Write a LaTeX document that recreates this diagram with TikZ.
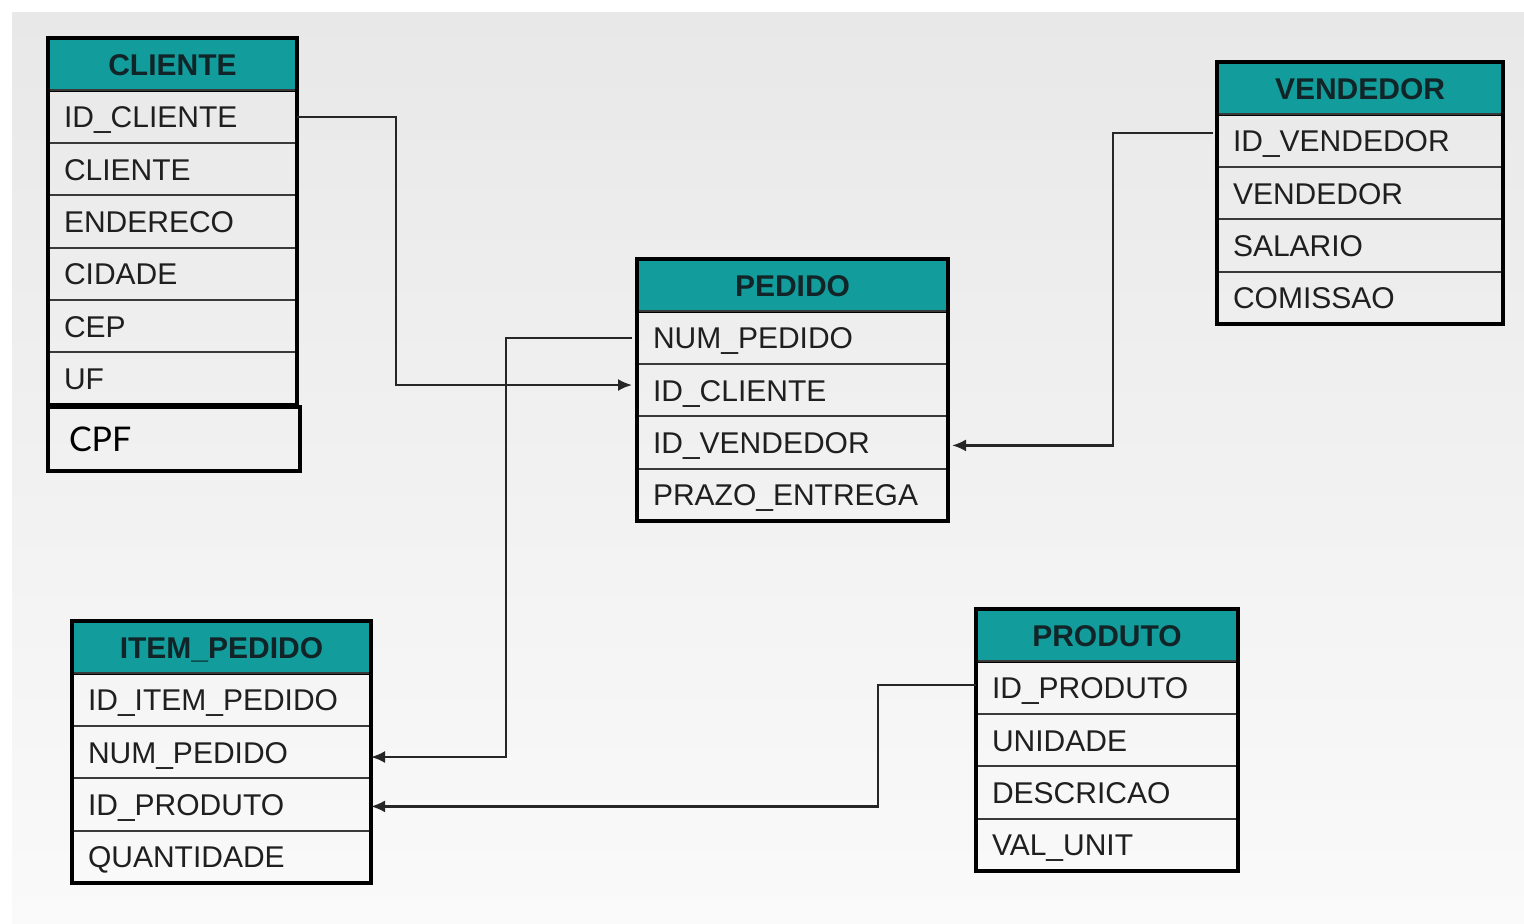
\documentclass[tikz,border=0pt]{standalone}
\usepackage{fontspec}
\setmainfont{Liberation Sans}
\newfontfamily\cpffont{Lato}
\usepackage{xcolor}
\definecolor{hdteal}{HTML}{129C9C}
\definecolor{hdtext}{HTML}{112528}
\definecolor{rowline}{HTML}{3A3A3A}
\definecolor{conncol}{HTML}{262626}
\usepackage{tikz}
\usetikzlibrary{arrows.meta, positioning, fit}

\begin{document}
\begin{tikzpicture}[
  x=0.5pt, y=-0.5pt,
  field/.style={rectangle, draw=rowline, line width=1pt,
    text width=#1, align=left, inner xsep=8pt, inner ysep=0pt,
    outer sep=0pt, minimum height=26.2pt,
    text height=12.5pt, text depth=1.5pt,
    font=\fontsize{15}{18}\selectfont, text=black!88},
  header/.style={field=#1, fill=hdteal, draw=black, line width=1.5pt,
    align=center, font=\fontsize{15}{18}\selectfont\bfseries, text=hdtext},
  frame/.style={draw=black, line width=2pt, inner sep=0pt},
  keybox/.style={rectangle, draw=black, line width=1.6pt,
    text width=105pt, align=left, inner xsep=10.5pt,
    minimum height=32pt, outer sep=0pt,
    font=\cpffont\fontsize{17}{20}\selectfont},
  arr/.style={-{Latex[length=7pt, width=6pt]}, line width=1.1pt, color=conncol}
]
  % background
  \useasboundingbox (0,0) rectangle (1524,923);
  \fill[white] (0,0) rectangle (1524,923);
  \shade[top color=gray!18, bottom color=gray!4] (12,12) rectangle (1524,923);

  % CLIENTE
  \node[header=108.5pt, anchor=north west] (cli-h) at (48,38) {CLIENTE};
  \node[field=108.5pt, below=0pt of cli-h] (cli-id) {ID\_CLIENTE};
  \node[field=108.5pt, below=0pt of cli-id] (cli-nome) {CLIENTE};
  \node[field=108.5pt, below=0pt of cli-nome] (cli-end) {ENDERECO};
  \node[field=108.5pt, below=0pt of cli-end] (cli-cid) {CIDADE};
  \node[field=108.5pt, below=0pt of cli-cid] (cli-cep) {CEP};
  \node[field=108.5pt, below=0pt of cli-cep] (cli-uf) {UF};
  \node[frame, fit=(cli-h)(cli-uf)] (cli) {};
  \node[keybox, anchor=north west] (cli-cpf) at (48,407) {CPF};

  % PEDIDO
  \node[header=139.5pt, anchor=north west] (ped-h) at (637,259) {PEDIDO};
  \node[field=139.5pt, below=0pt of ped-h] (ped-num) {NUM\_PEDIDO};
  \node[field=139.5pt, below=0pt of ped-num] (ped-cli) {ID\_CLIENTE};
  \node[field=139.5pt, below=0pt of ped-cli] (ped-ven) {ID\_VENDEDOR};
  \node[field=139.5pt, below=0pt of ped-ven] (ped-prazo) {PRAZO\_ENTREGA};
  \node[frame, fit=(ped-h)(ped-prazo)] (ped) {};

  % VENDEDOR
  \node[header=127pt, anchor=north west] (ven-h) at (1217,62) {VENDEDOR};
  \node[field=127pt, below=0pt of ven-h] (ven-id) {ID\_VENDEDOR};
  \node[field=127pt, below=0pt of ven-id] (ven-nome) {VENDEDOR};
  \node[field=127pt, below=0pt of ven-nome] (ven-sal) {SALARIO};
  \node[field=127pt, below=0pt of ven-sal] (ven-com) {COMISSAO};
  \node[frame, fit=(ven-h)(ven-com)] (ven) {};

  % ITEM_PEDIDO
  \node[header=133.5pt, anchor=north west] (item-h) at (72,621) {ITEM\_PEDIDO};
  \node[field=133.5pt, below=0pt of item-h] (item-id) {ID\_ITEM\_PEDIDO};
  \node[field=133.5pt, below=0pt of item-id] (item-num) {NUM\_PEDIDO};
  \node[field=133.5pt, below=0pt of item-num] (item-prod) {ID\_PRODUTO};
  \node[field=133.5pt, below=0pt of item-prod] (item-qtd) {QUANTIDADE};
  \node[frame, fit=(item-h)(item-qtd)] (item) {};

  % PRODUTO
  \node[header=115pt, anchor=north west] (pro-h) at (976,609) {PRODUTO};
  \node[field=115pt, below=0pt of pro-h] (pro-id) {ID\_PRODUTO};
  \node[field=115pt, below=0pt of pro-id] (pro-un) {UNIDADE};
  \node[field=115pt, below=0pt of pro-un] (pro-desc) {DESCRICAO};
  \node[field=115pt, below=0pt of pro-desc] (pro-val) {VAL\_UNIT};
  \node[frame, fit=(pro-h)(pro-val)] (pro) {};

  % relacionamentos
  \draw[arr, shorten >=2.5pt] (cli-id.east) -- ++(49.5pt,0)
    |- ([yshift=2.5pt]ped-cli.west);
  \draw[arr] ([xshift=-2.5pt]ped-num.west) -- ++(-63pt,0)
    |- ([yshift=-2.5pt]item-num.east);
  \draw[arr] ([xshift=-2pt, yshift=4pt]ven-id.west) -- ++(-50pt,0)
    |- ([xshift=2pt, yshift=-1.5pt]ped-ven.east);
  \draw[arr] ([yshift=1.5pt]pro-id.west) -- ++(-49pt,0)
    |- ([yshift=-1pt]item-prod.east);
\end{tikzpicture}
\end{document}
